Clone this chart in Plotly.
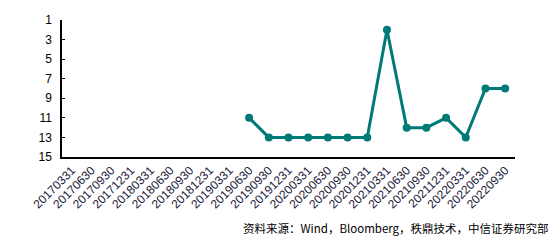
import plotly.graph_objects as go

categories = ["20170331","20170630","20170930","20171231","20180331","20180630",
              "20180930","20181231","20190331","20190630","20190930","20191231",
              "20200331","20200630","20200930","20201231","20210331","20210630",
              "20210930","20211231","20220331","20220630","20220930"]
values = [None,None,None,None,None,None,None,None,None,
          11,13,13,13,13,13,13,2,12,12,11,13,8,8]
y_ticks = [1,3,5,7,9,11,13,15]
source = "资料来源：Wind，Bloomberg，秩鼎技术，中信证券研究部"

fig = go.Figure()
fig.add_trace(go.Scatter(x=categories, y=values, mode="lines+markers",
                         line=dict(color="#007A77", width=3),
                         marker=dict(color="#007A77", size=8),
                         connectgaps=False, showlegend=False))
fig.update_layout(
    width=557, height=245,
    margin=dict(l=62, r=42, t=20, b=88),
    paper_bgcolor="white", plot_bgcolor="white",
    font=dict(family="Arial, Liberation Sans", size=12, color="#000"),
    xaxis=dict(type="category", categoryarray=categories, tickangle=-45,
               showline=True, linecolor="#000", linewidth=1.5, showgrid=False,
               ticks="", tickfont=dict(size=12, color="#1a1a3a"),
               range=[-0.5, len(categories)-0.5]),
    yaxis=dict(range=[15, 1], tickvals=y_ticks, showgrid=False, zeroline=False,
               showline=True, linecolor="#000", linewidth=1.5,
               ticks="inside", ticklen=3, tickcolor="#000",
               tickfont=dict(size=12, color="#000"), ticklabelstandoff=6),
    annotations=[dict(text=source, xref="paper", yref="paper", x=1.08, y=-0.52,
                      xanchor="right", yanchor="middle", showarrow=False,
                      font=dict(family="Noto Sans CJK SC", size=11.5, color="#000"))],
)
fig.write_html("out.html")
